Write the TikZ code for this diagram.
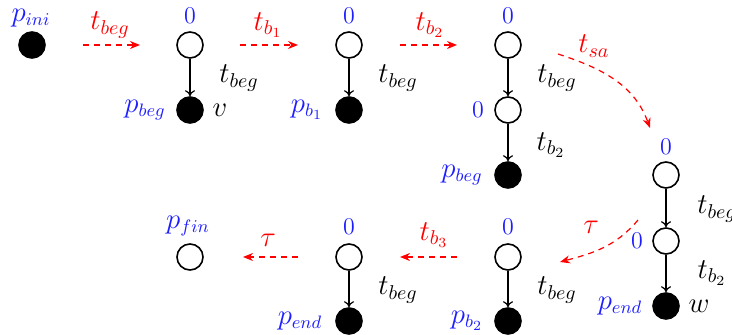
\documentclass[tikz,border=0pt]{standalone}
\usetikzlibrary{arrows.meta}
\definecolor{lblue}{RGB}{30,30,255}
\definecolor{lred}{RGB}{255,0,0}
\begin{document}
\begin{tikzpicture}[x=0.5pt,y=0.5pt,
  wplace/.style={circle,draw,line width=0.8pt,minimum size=13pt,inner sep=0pt,fill=white},
  bplace/.style={circle,fill=black,draw,line width=0.8pt,minimum size=13pt,inner sep=0pt},
  zlab/.style={text=lblue,font=\fontsize{11.5}{14}\selectfont,inner sep=1pt},
  plab/.style={text=lblue,font=\fontsize{13.5}{16}\selectfont,inner sep=1pt},
  tlab/.style={font=\fontsize{14}{16}\selectfont,inner sep=1pt},
  rlab/.style={text=lred,font=\fontsize{14}{16}\selectfont,inner sep=1pt},
  flow/.style={-{To[length=3pt,width=5pt]},line width=0.6pt},
  redarr/.style={-{Stealth[length=5pt,width=4pt]},lred,dashed,dash pattern=on 3pt off 2.5pt,line width=0.6pt}]
\useasboundingbox (0,0) rectangle (732,-335);
% row 1
\node[bplace] (ini) at (32,-45) {};
\node[plab] (lini) at (31,-18) {$p_{ini}$};
\coordinate (a1s) at (83,-45); \coordinate (a1e) at (140,-45);
\draw[redarr] (a1s) -- (a1e);
\node[rlab] (la1) at (110,-25) {$t_{beg}$};
% col 1
\node[wplace] (c1a) at (190,-45) {};
\node[zlab] (z1) at (190,-16) {$0$};
\node[bplace] (c1b) at (190,-110) {};
\draw[flow] (c1a) -- (c1b);
\node[tlab] (t1) at (239,-78) {$t_{beg}$};
\node[plab] (p1) at (145,-110) {$p_{beg}$};
\node[tlab] (v) at (220,-110) {$v$};
\coordinate (a2s) at (240,-45); \coordinate (a2e) at (298,-45);
\draw[redarr] (a2s) -- (a2e);
\node[rlab] (la2) at (268,-25) {$t_{b_1}$};
% col 2
\node[wplace] (c2a) at (349,-45) {};
\node[zlab] (z2) at (349,-16) {$0$};
\node[bplace] (c2b) at (349,-110) {};
\draw[flow] (c2a) -- (c2b);
\node[tlab] (t2) at (398,-78) {$t_{beg}$};
\node[plab] (p2) at (307,-110) {$p_{b_1}$};
\coordinate (a3s) at (400,-45); \coordinate (a3e) at (457,-45);
\draw[redarr] (a3s) -- (a3e);
\node[rlab] (la3) at (430,-25) {$t_{b_2}$};
% col 3
\node[wplace] (c3a) at (508,-45) {};
\node[zlab] (z3) at (508,-16) {$0$};
\node[wplace] (c3b) at (508,-110) {};
\node[zlab] (z3b) at (478,-110) {$0$};
\node[bplace] (c3c) at (508,-175) {};
\draw[flow] (c3a) -- (c3b);
\draw[flow] (c3b) -- (c3c);
\node[tlab] (t3a) at (557,-78) {$t_{beg}$};
\node[tlab] (t3b) at (551,-145) {$t_{b_2}$};
\node[plab] (p3) at (462,-175) {$p_{beg}$};
% t_sa curve
\coordinate (csas) at (558,-54); \coordinate (csae) at (650,-128);
\draw[redarr] (csas) to[out=-18,in=110] (csae);
\node[rlab] (lsa) at (594,-46) {$t_{sa}$};
% col 4
\node[wplace] (c4a) at (666,-175) {};
\node[zlab] (z4) at (666,-147) {$0$};
\node[wplace] (c4b) at (666,-241) {};
\node[zlab] (z4b) at (637,-241) {$0$};
\node[bplace] (c4c) at (666,-306) {};
\draw[flow] (c4a) -- (c4b);
\draw[flow] (c4b) -- (c4c);
\node[tlab] (t4a) at (717,-209) {$t_{beg}$};
\node[tlab] (t4b) at (712,-273) {$t_{b_2}$};
\node[plab] (p4) at (620,-306) {$p_{end}$};
\node[tlab] (w) at (699,-306) {$w$};
% tau curve
\coordinate (ctas) at (638,-220); \coordinate (ctae) at (560,-262);
\draw[redarr] (ctas) to[out=-130,in=15] (ctae);
\node[rlab] (lta) at (591,-227) {$\tau$};
% bottom col 3
\node[wplace] (b3a) at (508,-257) {};
\node[zlab] (zb3) at (508,-227) {$0$};
\node[bplace] (b3b) at (508,-321) {};
\draw[flow] (b3a) -- (b3b);
\node[tlab] (tb3) at (557,-290) {$t_{beg}$};
\node[plab] (pb3) at (467,-321) {$p_{b_2}$};
\coordinate (a4s) at (457,-257); \coordinate (a4e) at (400,-257);
\draw[redarr] (a4s) -- (a4e);
\node[rlab] (la4) at (434,-235) {$t_{b_3}$};
% bottom col 2
\node[wplace] (b2a) at (349,-257) {};
\node[zlab] (zb2) at (349,-227) {$0$};
\node[bplace] (b2b) at (349,-321) {};
\draw[flow] (b2a) -- (b2b);
\node[tlab] (tb2) at (398,-290) {$t_{beg}$};
\node[plab] (pb2) at (300,-321) {$p_{end}$};
\coordinate (a5s) at (298,-257); \coordinate (a5e) at (243,-257);
\draw[redarr] (a5s) -- (a5e);
\node[rlab] (la5) at (268,-240) {$\tau$};
% fin
\node[wplace] (fin) at (190,-257) {};
\node[plab] (pfin) at (188,-226) {$p_{fin}$};
\end{tikzpicture}
\end{document}
